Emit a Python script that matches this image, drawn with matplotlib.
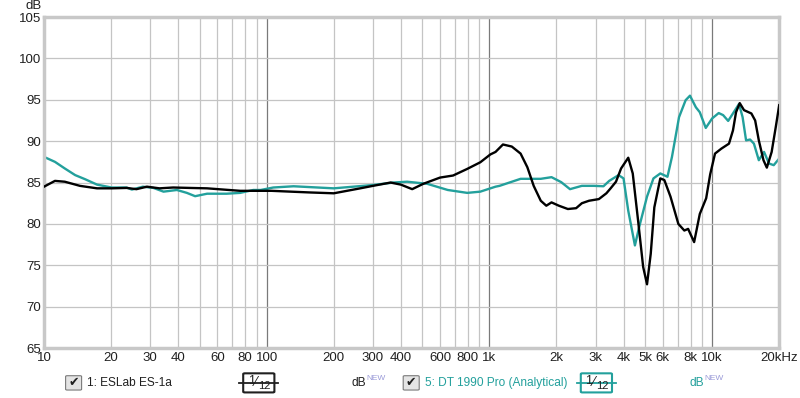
import matplotlib.pyplot as plt
from matplotlib.patches import FancyBboxPatch
from matplotlib.ticker import FixedLocator, NullFormatter

plt.rcParams['font.family'] = ['Liberation Sans', 'DejaVu Sans']

# ESLab ES-1a (black)
es_freq = [10, 11.2, 12.4, 14.5, 17.3, 20.1, 23.5, 26, 29, 33, 38, 45, 54, 64, 76, 90, 105,
           128, 157, 200, 263, 300, 360, 400, 450, 505, 600, 687, 795, 910, 1010, 1065,
           1150, 1260, 1380, 1480, 1580, 1700, 1800, 1900, 2050, 2250, 2450, 2600, 2800,
           3100, 3350, 3500, 3700, 3900, 4200, 4400, 4650, 4900, 5100, 5300, 5500, 5850,
           6100, 6500, 7050, 7500, 7800, 8300, 8800, 9400, 9800, 10300, 11000, 11900,
           12400, 12800, 13300, 13900, 15000, 15600, 16200, 17000, 17600, 18500, 19300, 20000]
es_db = [84.5, 85.2, 85.1, 84.6, 84.3, 84.3, 84.35, 84.2, 84.5, 84.3, 84.4, 84.35, 84.3, 84.15,
         84.0, 84.0, 84.0, 83.9, 83.8, 83.7, 84.3, 84.6, 85.0, 84.75, 84.2, 84.85, 85.6, 85.85,
         86.65, 87.45, 88.4, 88.7, 89.6, 89.35, 88.5, 86.85, 84.6, 82.8, 82.2, 82.6, 82.2,
         81.8, 81.9, 82.5, 82.8, 83.0, 83.7, 84.3, 85.1, 86.7, 88.0, 86.1, 80.4, 74.8, 72.7,
         76.4, 82.0, 85.5, 85.3, 83.3, 80.0, 79.2, 79.4, 77.8, 81.2, 83.1, 86.0, 88.5, 89.1,
         89.7, 91.3, 93.5, 94.6, 93.75, 93.35, 92.5, 90.1, 87.7, 86.8, 88.7, 91.7, 94.35]

# DT 1990 Pro (Analytical) (teal)
dt_freq = [10, 11.2, 12.4, 13.8, 15.3, 17.3, 20.1, 23.5, 24.8, 27.8, 31, 34.4, 39.5, 43.8,
           47.7, 54, 66, 76, 87, 94, 107, 132, 200, 300, 370, 427, 525, 650, 795, 910, 1065,
           1110, 1380, 1700, 1900, 2100, 2300, 2600, 2950, 3250, 3450, 3800, 4000, 4200,
           4500, 4700, 5100, 5450, 5850, 6300, 6600, 7100, 7600, 7950, 8450, 8800, 9360,
           10000, 10700, 11200, 11800, 12400, 13200, 13700, 14200, 14800, 15400, 16200,
           17100, 18000, 18900, 20000]
dt_db = [88.1, 87.5, 86.7, 85.9, 85.4, 84.75, 84.4, 84.4, 84.15, 84.5, 84.35, 83.9, 84.1,
         83.75, 83.35, 83.65, 83.65, 83.75, 84.1, 84.1, 84.4, 84.55, 84.3, 84.7, 85.0, 85.1,
         84.85, 84.1, 83.75, 83.9, 84.5, 84.6, 85.45, 85.45, 85.65, 85.05, 84.2, 84.6, 84.6,
         84.55, 85.2, 85.9, 85.5, 81.6, 77.4, 79.6, 83.3, 85.5, 86.1, 85.7, 88.1, 92.9,
         94.95, 95.5, 94.1, 93.5, 91.6, 92.75, 93.4, 93.15, 92.45, 93.35, 94.5, 92.9, 90.1,
         90.2, 89.7, 87.7, 88.7, 87.3, 87.1, 87.9]

x_ticks = [10, 20, 30, 40, 60, 80, 100, 200, 300, 400, 600, 800, 1000, 2000, 3000, 4000,
           5000, 6000, 8000, 10000, 20000]
x_labels = ['10', '20', '30', '40', '60', '80', '100', '200', '300', '400', '600', '800',
            '1k', '2k', '3k', '4k', '5k', '6k', '8k', '10k', '20kHz']
y_ticks = [65, 70, 75, 80, 85, 90, 95, 100, 105]

teal = '#23a09c'

fig = plt.figure(figsize=(8, 3.98), dpi=100)
ax = fig.add_axes([0.055, 0.1256, 0.919, 0.8315])

ax.set_xscale('log')
ax.set_xlim(10, 20000)
ax.set_ylim(65, 105)

# grid: every 1..9 multiple, decade lines darker
minor = [m * 10 ** d for d in range(1, 5) for m in range(1, 10) if 10 <= m * 10 ** d <= 20000]
for f in minor:
    if f in (100, 1000, 10000):
        ax.axvline(f, color='#7a7a7a', lw=0.9, zorder=0)
    else:
        ax.axvline(f, color='#c4c4c4', lw=0.9, zorder=0)
for y in y_ticks:
    ax.axhline(y, color='#c4c4c4', lw=0.9, zorder=0)

ax.plot(es_freq, es_db, color='black', lw=1.7, zorder=3)
ax.plot(dt_freq, dt_db, color=teal, lw=1.7, zorder=2)

ax.xaxis.set_major_locator(FixedLocator(x_ticks))
ax.set_xticklabels(x_labels)
ax.xaxis.set_minor_formatter(NullFormatter())
ax.xaxis.set_minor_locator(FixedLocator([]))
ax.set_yticks(y_ticks)
ax.tick_params(length=0, labelsize=9.5, colors='#202020', pad=2)
ax.tick_params(axis='x', pad=3)

for s in ax.spines.values():
    s.set_color('#c8c8c8')
    s.set_linewidth(2.5)

fig.text(0.032, 0.986, 'dB', fontsize=9.5, color='#202020', ha='left', va='center')


# bottom legend
def checkbox(x, y):
    fig.patches.append(FancyBboxPatch((x, y), 0.016, 0.032, boxstyle='round,pad=0.002',
                                      transform=fig.transFigure, facecolor='#e4e4e4',
                                      edgecolor='#7a7a7a', lw=0.8))
    fig.text(x + 0.008, y + 0.016, '\u2714', fontsize=9, ha='center', va='center',
             color='#202020', family=['DejaVu Sans'])


def smooth_icon(x, y, col):
    # x = left edge of the box
    fig.lines.append(plt.Line2D([x - 0.007, x + 0.042], [y, y], transform=fig.transFigure,
                                color=col, lw=1.3))
    fig.patches.append(FancyBboxPatch((x, y - 0.022), 0.035, 0.044, boxstyle='round,pad=0.002',
                                      transform=fig.transFigure, facecolor='white',
                                      edgecolor=col, lw=1.5))
    fig.text(x + 0.008, y + 0.005, '1', fontsize=9, ha='center', va='center', color='#202020')
    fig.text(x + 0.0145, y + 0.001, '\u2044', fontsize=10, ha='center', va='center', color='#202020')
    fig.text(x + 0.025, y - 0.008, '12', fontsize=8, ha='center', va='center', color='#202020')


ly = 0.038
legend_fs = 8.6
checkbox(0.084, ly - 0.016)
fig.text(0.109, ly, '1: ESLab ES-1a', fontsize=legend_fs, color='#202020', va='center')
smooth_icon(0.306, ly, '#202020')
fig.text(0.44, ly, 'dB', fontsize=legend_fs, color='#202020', va='center')
fig.text(0.458, ly + 0.012, 'NEW', fontsize=6, color='#9a9ad8', va='center')

checkbox(0.506, ly - 0.016)
fig.text(0.531, ly, '5: DT 1990 Pro (Analytical)', fontsize=legend_fs, color=teal, va='center')
smooth_icon(0.728, ly, teal)
fig.text(0.862, ly, 'dB', fontsize=legend_fs, color=teal, va='center')
fig.text(0.88, ly + 0.012, 'NEW', fontsize=6, color='#9a9ad8', va='center')

fig.savefig('out.png', dpi=100, facecolor='white')
